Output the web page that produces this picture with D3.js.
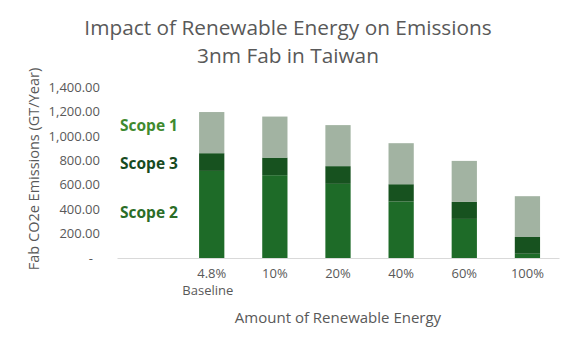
<!DOCTYPE html>
<html><head><meta charset="utf-8">
<script src="https://cdn.jsdelivr.net/npm/d3@7"></script>
<style>body{margin:0;background:#fff}svg{display:block}</style>
</head><body>
<svg id="c" width="576" height="348"></svg>
<script>
const categories = ["", "4.8%", "10%", "20%", "40%", "60%", "100%"];
const scope2 = [null, 713, 678, 607, 462, 320, 35];
const scope3 = [null, 145, 144, 145, 142, 139, 137];
const scope1 = [null, 337, 336, 336, 336, 336, 334];
const yTicks = [0, 200, 400, 600, 800, 1000, 1200, 1400];
const seriesNames = ["Scope 2", "Scope 3", "Scope 1"];
const colors = {"Scope 2": "#1e6b28", "Scope 3": "#17521f", "Scope 1": "#a2b3a2"};
const labelColors = {"Scope 1": "#3f8a2f", "Scope 3": "#174a1f", "Scope 2": "#2b6d27"};

const svg = d3.select("#c");
const margin = {left: 117, right: 17, top: 87, bottom: 90};
const W = 576, H = 348;
const x = d3.scaleBand().domain(categories).range([margin.left, W - margin.right]).paddingInner(0.6).paddingOuter(0.3);
const y = d3.scaleLinear().domain([0, 1400]).range([H - margin.bottom, margin.top]);
const gray = "#595959";
const font = "'Open Sans', 'Noto Sans', sans-serif";

// title
svg.append("text").attr("x", 288).attr("y", 35).attr("text-anchor", "middle")
  .attr("font-family", font).attr("font-size", 20.8).attr("fill", gray)
  .text("Impact of Renewable Energy on Emissions");
svg.append("text").attr("x", 288).attr("y", 63).attr("text-anchor", "middle")
  .attr("font-family", font).attr("font-size", 20.8).attr("fill", gray)
  .text("3nm Fab in Taiwan");

// stacked data
const rows = categories.map((c, i) => ({cat: c, "Scope 2": scope2[i], "Scope 3": scope3[i], "Scope 1": scope1[i]}))
  .filter(r => r["Scope 2"] != null);
const stack = d3.stack().keys(seriesNames)(rows);

svg.append("g").selectAll("g").data(stack).join("g")
  .attr("fill", d => colors[d.key])
  .selectAll("rect").data(d => d).join("rect")
  .attr("x", d => x(d.data.cat))
  .attr("width", x.bandwidth())
  .attr("y", d => y(d[1]))
  .attr("height", d => y(d[0]) - y(d[1]));

// y axis
const yAxis = d3.axisLeft(y).tickValues(yTicks).tickSize(0).tickPadding(17)
  .tickFormat(v => v === 0 ? "-" : d3.format(",.2f")(v));
const ya = svg.append("g").attr("transform", `translate(${margin.left},0)`).call(yAxis);
ya.select(".domain").remove();
ya.selectAll("text").attr("font-family", font).attr("font-size", 13).attr("fill", gray);
ya.selectAll(".tick").filter(d => d === 0).select("text").attr("dx", -7);

// x axis
const xAxis = d3.axisBottom(x).tickSize(0).tickPadding(11);
const xa = svg.append("g").attr("transform", `translate(0,${y(0)})`).call(xAxis);
xa.select(".domain").attr("stroke", "#d9d9d9").attr("stroke-width", 1);
xa.selectAll("text").attr("font-family", font).attr("font-size", 13).attr("fill", gray);
xa.selectAll(".tick").filter(d => d === "4.8%").append("text")
  .attr("y", 37).attr("dx", "-0.3em").attr("text-anchor", "middle")
  .attr("font-family", font).attr("font-size", 13).attr("fill", gray).text("Baseline");

// axis titles
svg.append("text").attr("transform", `translate(39,${169}) rotate(-90)`).attr("text-anchor", "middle")
  .attr("font-family", font).attr("font-size", 14.5).attr("fill", gray)
  .text("Fab CO2e  Emissions (GT/Year)");
svg.append("text").attr("x", 338).attr("y", 323).attr("text-anchor", "middle")
  .attr("font-family", font).attr("font-size", 15).attr("fill", gray)
  .text("Amount of Renewable Energy");

// series labels
const labelY = {"Scope 1": 131, "Scope 3": 169, "Scope 2": 218};
Object.keys(labelY).forEach(k => {
  svg.append("text").attr("x", 120).attr("y", labelY[k])
    .attr("font-family", font).attr("font-weight", 700).attr("font-size", 15.5).attr("fill", labelColors[k])
    .text(k);
});
</script>
</body></html>
